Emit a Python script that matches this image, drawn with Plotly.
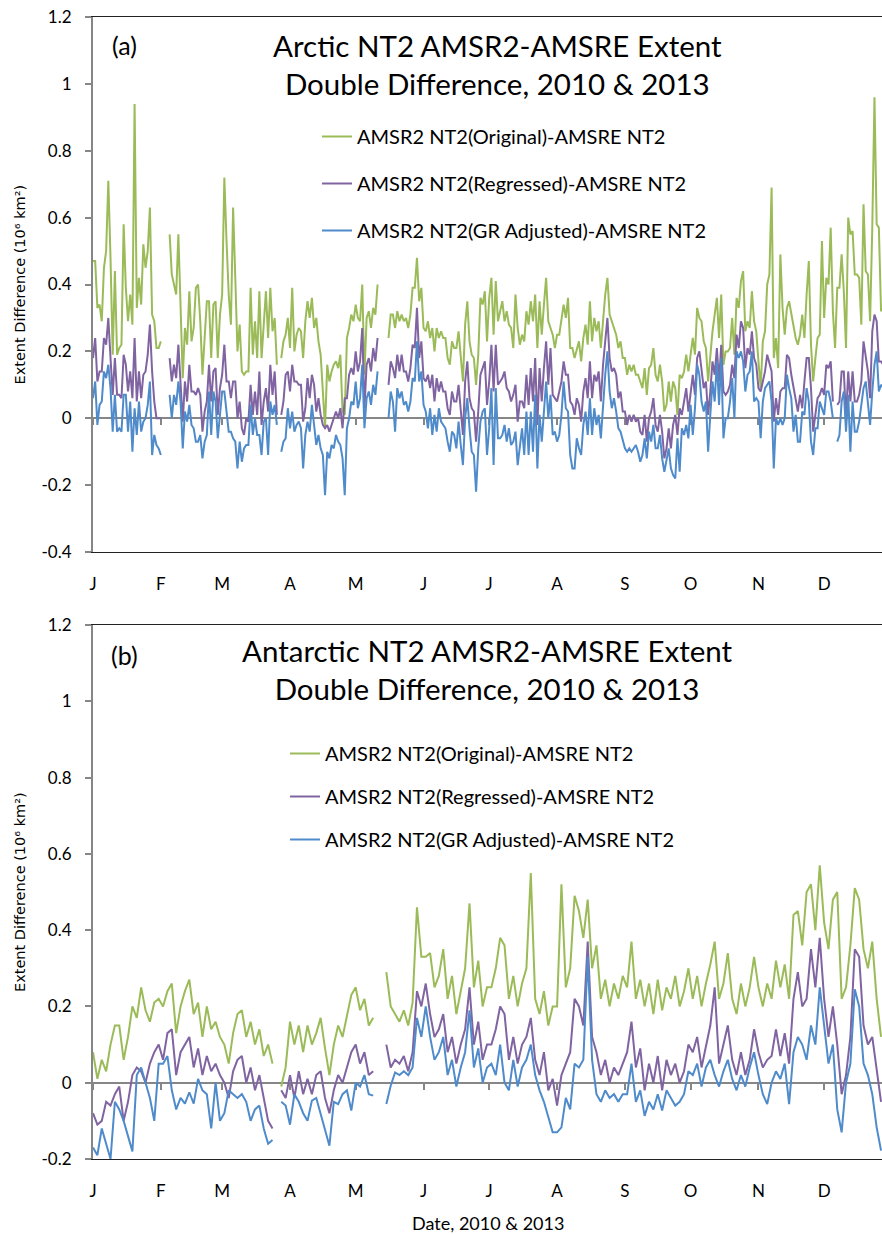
import numpy as np
import plotly.graph_objects as go

N = None
MONTH_START_DAYS = [0, 31, 59, 90, 120, 151, 181, 212, 243, 273, 304, 334]
MONTH_LABELS = ["J", "F", "M", "A", "M", "J", "J", "A", "S", "O", "N", "D"]
SERIES_NAMES = ["AMSR2 NT2(Original)-AMSRE NT2",
                "AMSR2 NT2(Regressed)-AMSRE NT2",
                "AMSR2 NT2(GR Adjusted)-AMSRE NT2"]
COLORS = ["#9BBB59", "#8064A2", "#4F8BCB"]

# ---------------- Arctic (daily, day 0 = Jan 1) ----------------
arctic_original = (
    [0.47, 0.47, 0.33, 0.34, 0.29, 0.45, 0.50, 0.71, 0.48, 0.19, 0.44, 0.19, 0.21, 0.22, 0.58, 0.39,
     0.29, 0.37, 0.28, 0.94, 0.33, 0.42, 0.34, 0.52, 0.45, 0.50, 0.63, 0.31, 0.29, 0.21, 0.21, 0.23]
    + [N] * 3 +
    [0.55, 0.43, 0.40, 0.37, 0.55, 0.33, 0.12, 0.27, 0.22, 0.38, 0.23, 0.27, 0.39, 0.40, 0.29, 0.13,
     0.26, 0.35, 0.35, 0.18, 0.34, 0.35, 0.18, 0.31, 0.37, 0.72, 0.53, 0.37, 0.28, 0.63, 0.42, 0.20,
     0.28, 0.14, 0.13, 0.14, 0.14, 0.39, 0.19, 0.29, 0.18, 0.38, 0.18, 0.27, 0.38, 0.24, 0.39, 0.26,
     0.30, 0.16]
    + [N] +
    [0.18, 0.23,
     0.25, 0.30, 0.21, 0.39, 0.20, 0.25, 0.27, 0.26, 0.18, 0.29, 0.35, 0.30, 0.36, 0.27, 0.30, 0.23,
     0.19, 0.08, -0.03, 0.16, 0.11, 0.14, 0.16, 0.17, 0.15, 0.19, 0.02, 0.01, 0.24, 0.27, 0.31, 0.29,
     0.34, 0.30, 0.29, 0.40, 0.13, 0.30, 0.32, 0.27, 0.33, 0.31, 0.40]
    + [N] * 4 +
    [0.24, 0.31, 0.31, 0.27, 0.32, 0.29, 0.31, 0.29, 0.30, 0.27, 0.31, 0.39, 0.39, 0.48, 0.35, 0.39,
     0.27, 0.26, 0.29, 0.24, 0.27, 0.20, 0.27, 0.24, 0.26, 0.24, 0.24, 0.18, 0.16, 0.23, 0.21, 0.21,
     0.26, 0.18, 0.11, 0.28, 0.35, 0.23, 0.19, 0.18, 0.10, 0.19,
     0.36, 0.34, 0.38, 0.23, 0.36, 0.42, 0.25, 0.41, 0.29, 0.32, 0.35, 0.29, 0.32, 0.28, 0.27, 0.21,
     0.37, 0.27, 0.22, 0.25, 0.23, 0.32, 0.28, 0.35, 0.29, 0.37, 0.21, 0.35, 0.25, 0.34, 0.42, 0.29,
     0.27, 0.25, 0.21, 0.25, 0.25, 0.30, 0.34, 0.30, 0.36, 0.21, 0.21, 0.18, 0.21, 0.23, 0.17, 0.24,
     0.28, 0.22, 0.35, 0.23, 0.30, 0.26, 0.29, 0.21, 0.29, 0.37, 0.42, 0.31, 0.29, 0.27, 0.25, 0.21,
     0.23, 0.18, 0.18, 0.13, 0.16, 0.14, 0.16, 0.13, 0.13, 0.11, 0.09, 0.15, 0.07, 0.15, 0.16, 0.21,
     0.13, 0.11, 0.16, 0.11, 0.02, 0.04, 0.11, 0.05, 0.11,
     0.09, 0.01, 0.13, 0.12, 0.14, 0.19, 0.14, 0.20, 0.24, 0.19, 0.33, 0.30, 0.29, 0.23, 0.21, 0.11,
     0.19, 0.26, 0.31, 0.36, 0.24, 0.37, 0.16, 0.20, 0.20, 0.21, 0.30, 0.19, 0.36, 0.33, 0.41, 0.44,
     0.26, 0.29, 0.27, 0.38, 0.29, 0.26, 0.17, 0.09, 0.23, 0.26, 0.40, 0.43, 0.69, 0.18, 0.24, 0.15,
     0.49, 0.33, 0.25, 0.33, 0.35, 0.31, 0.27, 0.24, 0.22, 0.25, 0.31, 0.24, 0.37, 0.47, 0.22, 0.11,
     0.18, 0.24, 0.25, 0.53, 0.30, 0.42, 0.40, 0.57, 0.32, 0.21, 0.39, 0.39, 0.49, 0.38, 0.21, 0.60,
     0.55, 0.56, 0.43, 0.43, 0.42, 0.28, 0.64, 0.44, 0.43, 0.29, 0.57, 0.96, 0.58, 0.57, 0.32, 0.33]
)

arctic_regressed = (
    [0.18, 0.24, 0.11, 0.14, 0.14, 0.24, 0.22, 0.30, 0.18, 0.07, 0.18, 0.07, 0.07, 0.06, 0.19, 0.16,
     0.08, 0.14, 0.06, 0.24, 0.05, 0.14, 0.06, 0.13, 0.14, 0.19, 0.28, 0.14, 0.05, 0.00, 0.00, 0.00]
    + [N] * 3 +
    [0.18, 0.11, 0.16, 0.12, 0.22, 0.11, -0.01, 0.11, 0.05, 0.16, 0.08, 0.08, 0.07, 0.09, 0.07, -0.04,
     0.02, 0.05, 0.16, 0.05, 0.14, 0.15, 0.01, 0.09, 0.13, 0.22, 0.11, 0.11, 0.06, 0.11, 0.11, 0.00,
     0.05, -0.03, -0.05, 0.00, -0.01, 0.10, 0.01, 0.08, 0.01, 0.14, -0.02, 0.05, 0.09, 0.02, 0.16, 0.07,
     0.14, 0.01]
    + [N] +
    [0.01, 0.05,
     0.13, 0.14, 0.08, 0.16, 0.11, 0.11, 0.10, 0.10, -0.01, 0.03, 0.12, 0.06, 0.13, 0.10, 0.02, 0.06,
     0.01, -0.02, -0.03, -0.02, -0.04, -0.02, 0.00, 0.02, 0.00, 0.03, -0.03, 0.06, 0.06, 0.13, 0.15, 0.13,
     0.20, 0.14, 0.17, 0.27, 0.03, 0.16, 0.18, 0.14, 0.21, 0.17, 0.24]
    + [N] * 4 +
    [0.10, 0.17, 0.15, 0.12, 0.19, 0.14, 0.19, 0.14, 0.14, 0.11, 0.15, 0.22, 0.21, 0.33, 0.18, 0.23,
     0.12, 0.11, 0.13, 0.09, 0.13, 0.05, 0.12, 0.08, 0.11, 0.08, 0.08, 0.03, 0.01, 0.08, 0.05, 0.05,
     0.10, 0.02, -0.05, 0.11, 0.17, 0.06, 0.03, 0.02, -0.07, 0.02,
     0.13, 0.15, 0.17, 0.04, 0.11, 0.22, 0.08, 0.22, 0.10, 0.11, 0.12, 0.14, 0.09, 0.08, 0.05, 0.07,
     0.10, -0.01, 0.05, 0.05, 0.03, 0.13, 0.04, 0.15, 0.05, 0.18, -0.02, 0.15, 0.05, 0.15, 0.23, 0.10,
     0.21, 0.07, 0.06, 0.05, 0.08, 0.11, 0.17, 0.13, 0.13, 0.05, 0.04, 0.01, 0.06, 0.04, -0.01, 0.08,
     0.12, 0.06, 0.17, 0.06, 0.13, 0.11, 0.14, 0.05, 0.16, 0.24, 0.30, 0.18, 0.14, 0.15, 0.13, 0.06,
     0.08, 0.02, 0.02, -0.02, 0.01, -0.01, 0.01, -0.01, 0.00, -0.04, -0.05, 0.01, -0.07, 0.00, 0.02, 0.06,
     -0.02, -0.04, 0.01, -0.04, -0.12, -0.09, -0.03, -0.09, -0.02,
     0.01, -0.05, 0.03, 0.01, 0.05, 0.09, 0.02, 0.07, 0.13, 0.07, 0.18, 0.20, 0.14, 0.09, 0.11, 0.01,
     0.08, 0.17, 0.13, 0.21, 0.11, 0.22, 0.08, 0.07, 0.08, 0.10, 0.16, 0.12, 0.25, 0.21, 0.29, 0.27,
     0.15, 0.21, 0.19, 0.26, 0.18, 0.16, 0.09, 0.08, 0.11, 0.14, 0.19, 0.16, 0.14, -0.01, 0.06, 0.01,
     0.08, 0.09, 0.09, 0.19, 0.18, 0.13, 0.09, 0.06, 0.02, 0.07, 0.03, 0.11, 0.18, 0.18, 0.09, -0.04,
     0.01, 0.06, 0.07, 0.09, 0.07, 0.16, 0.15, 0.17, 0.05, N, 0.04, 0.05, 0.14, 0.14, 0.00, 0.14,
     0.05, 0.14, 0.05, 0.05, 0.07, 0.11, 0.23, 0.18, 0.14, 0.06, 0.26, 0.31, 0.29, 0.17, 0.17, 0.16]
)

arctic_gr_adjusted = (
    [0.06, 0.11, -0.02, 0.04, 0.05, 0.14, 0.12, 0.16, 0.09, -0.04, 0.07, -0.04, -0.03, -0.04, 0.07, 0.07,
     -0.04, 0.05, -0.10, 0.03, -0.05, 0.05, -0.04, -0.01, 0.00, 0.04, 0.11, -0.11, -0.05, -0.08, -0.09, -0.11]
    + [N] * 3 +
    [0.07, 0.00, 0.07, 0.04, 0.11, 0.05, -0.09, 0.02, -0.01, 0.04, -0.02, -0.03, -0.07, -0.07, -0.05, -0.12,
     -0.07, -0.05, 0.08, -0.05, 0.08, 0.05, -0.06, 0.01, 0.08, 0.08, 0.01, -0.04, -0.04, -0.06, -0.07, -0.15,
     -0.07, -0.13, -0.09, -0.08, -0.08, 0.04, -0.05, 0.00, -0.05, -0.05, -0.11, -0.01, 0.00, -0.11, 0.05, 0.01,
     0.04, -0.02]
    + [N] +
    [-0.10, -0.07,
     -0.06, 0.03, -0.03, 0.02, -0.04, -0.02, -0.01, -0.03, -0.15, -0.05, -0.01, -0.04, 0.04, -0.02, -0.08, -0.05,
     -0.09, -0.11, -0.23, -0.10, -0.12, -0.08, -0.09, -0.05, -0.07, -0.08, -0.12, -0.23, -0.03, 0.00, 0.05, 0.04,
     0.11, 0.03, 0.06, 0.16, -0.03, 0.06, 0.08, 0.04, 0.10, 0.07, 0.14]
    + [N] * 4 +
    [0.00, 0.08, 0.05, -0.04, 0.09, 0.06, 0.08, 0.04, 0.05, 0.02, 0.05, 0.12, 0.11, 0.23, 0.11, 0.14,
     0.04, 0.02, -0.03, 0.03, -0.05, 0.01, -0.04, 0.03, -0.01, -0.02, -0.03, -0.07, -0.10, -0.04, -0.05, -0.09,
     -0.01, -0.08, -0.14, 0.00, 0.06, -0.03, -0.10, -0.11, -0.22, -0.09,
     -0.01, 0.02, 0.03, -0.11, -0.03, 0.09, -0.14, 0.09, -0.06, -0.06, -0.05, -0.02, -0.07, -0.03, -0.08, -0.07,
     -0.04, -0.14, -0.09, -0.03, -0.11, 0.02, -0.11, 0.02, -0.10, 0.07, -0.15, 0.01, -0.07, 0.03, 0.11, 0.00,
     0.07, -0.05, -0.04, -0.07, -0.05, 0.01, 0.11, 0.03, 0.02, -0.11, -0.15, -0.15, -0.06, -0.09, -0.11, -0.02,
     0.02, -0.05, 0.06, -0.05, 0.03, -0.02, 0.01, -0.06, 0.05, 0.13, 0.20, 0.08, 0.03, 0.06, 0.02, -0.03,
     -0.04, -0.07, -0.09, -0.10, -0.09, -0.10, -0.09, -0.08, -0.10, -0.13, -0.11, -0.06, -0.12, -0.04, -0.07, -0.02,
     -0.09, -0.09, -0.05, -0.12, -0.16, -0.12, -0.09, -0.15, -0.17,
     -0.18, -0.06, -0.16, -0.03, -0.05, -0.02, -0.06, 0.04, -0.05, 0.03, 0.16, 0.13, 0.05, 0.02, 0.05, -0.10,
     0.01, 0.11, 0.05, 0.17, 0.04, 0.18, -0.06, 0.00, 0.00, 0.05, 0.12, 0.00, 0.20, 0.18, 0.20, 0.17,
     0.08, 0.13, 0.14, 0.20, 0.05, 0.06, 0.05, -0.06, 0.05, 0.09, 0.10, 0.11, 0.05, -0.15, 0.00, -0.02,
     0.00, -0.02, 0.00, 0.13, 0.09, 0.06, -0.04, 0.01, -0.07, -0.07, 0.02, 0.01, 0.09, 0.05, -0.07, -0.11,
     -0.03, -0.03, 0.05, 0.03, 0.01, 0.08, 0.08, 0.05, 0.00, N, -0.07, -0.05, 0.05, 0.08, -0.04, 0.07,
     -0.10, 0.05, -0.04, -0.04, -0.01, 0.05, 0.09, 0.11, 0.05, -0.02, 0.08, 0.16, 0.20, 0.08, 0.10, 0.09]
)

# ---------------- Antarctic (every 2nd day, day 0 = Jan 1) ----------------
antarctic_original = (
    # Jan
    [0.08, 0.01, 0.06, 0.03, 0.10, 0.15, 0.15, 0.06, 0.12, 0.20, 0.17, 0.25, 0.19, 0.16, 0.21, 0.22]
    # Feb
    + [0.20, 0.24, 0.26, 0.13, 0.20, 0.24, 0.27, 0.18, 0.21, 0.12, 0.20, 0.14, 0.16, 0.12]
    # Mar
    + [0.10, 0.05, 0.13, 0.18, 0.19, 0.12, 0.16, 0.10, 0.14, 0.07, 0.10, 0.05, N, -0.01, 0.04]
    # Apr
    + [0.16, 0.10, 0.15, 0.08, 0.15, 0.10, 0.13, 0.17, 0.09, 0.02, 0.10, 0.15, 0.12, 0.18, 0.23]
    # May
    + [0.25, 0.19, 0.22, 0.15, 0.17, N, N, 0.29, 0.20, 0.18, 0.16, 0.19, 0.15, 0.21, 0.46, 0.33]
    # Jun
    + [0.33, 0.34, 0.25, 0.28, 0.35, 0.22, 0.28, 0.18, 0.24, 0.30, 0.47, 0.25, 0.32, 0.20, 0.25]
    # Jul
    + [0.25, 0.30, 0.38, 0.36, 0.22, 0.28, 0.20, 0.26, 0.30, 0.55, 0.22, 0.18, 0.24, 0.15, 0.20]
    # Aug
    + [0.20, 0.52, 0.25, 0.30, 0.49, 0.45, 0.38, 0.48, 0.30, 0.36, 0.22, 0.27, 0.20, 0.26, 0.22, 0.28]
    # Sep
    + [0.25, 0.37, 0.22, 0.27, 0.20, 0.26, 0.18, 0.27, 0.19, 0.25, 0.22, 0.28, 0.20, 0.24, 0.30]
    # Oct
    + [0.22, 0.28, 0.20, 0.26, 0.31, 0.37, 0.22, 0.26, 0.34, 0.22, 0.18, 0.26, 0.20, 0.25, 0.33]
    # Nov
    + [0.25, 0.20, 0.26, 0.22, 0.32, 0.25, 0.31, 0.22, 0.44, 0.45, 0.36, 0.50, 0.52, 0.40, 0.57]
    # Dec
    + [0.42, 0.35, 0.48, 0.50, 0.22, 0.25, 0.36, 0.51, 0.48, 0.35, 0.30, 0.37, 0.22, 0.12]
)

antarctic_regressed = (
    [-0.08, -0.11, -0.10, -0.05, -0.06, -0.03, -0.01, -0.10, -0.05, 0.02, 0.04, 0.03, 0.00, 0.05, 0.08, 0.10]
    + [0.06, 0.13, 0.14, 0.02, 0.08, 0.10, 0.12, 0.04, 0.09, 0.02, 0.07, 0.03, 0.05, 0.02]
    + [0.00, -0.04, 0.03, 0.06, 0.07, 0.00, 0.04, -0.02, 0.02, -0.04, -0.10, -0.12, N, -0.02, -0.04]
    + [0.02, -0.04, 0.03, -0.03, 0.01, -0.03, 0.02, 0.03, -0.04, -0.08, -0.02, 0.02, 0.00, 0.04, 0.08]
    + [0.10, 0.05, 0.08, 0.02, 0.03, N, N, 0.10, 0.04, 0.06, 0.05, 0.07, 0.03, 0.08, 0.24, 0.20]
    + [0.26, 0.18, 0.12, 0.14, 0.18, 0.08, 0.12, 0.05, 0.10, 0.14, 0.25, 0.10, 0.16, 0.06, 0.10]
    + [0.10, 0.14, 0.20, 0.18, 0.06, 0.12, 0.05, 0.10, 0.12, 0.17, 0.06, 0.02, 0.08, -0.02, 0.01]
    + [-0.06, 0.02, 0.05, 0.08, 0.22, 0.20, 0.15, 0.37, 0.12, 0.08, 0.02, 0.06, 0.00, 0.04, 0.02, 0.05]
    + [0.08, 0.16, 0.04, 0.09, -0.02, 0.05, 0.00, 0.07, -0.02, 0.06, 0.02, 0.05, 0.00, 0.03, 0.10]
    + [0.08, 0.12, 0.04, 0.10, 0.15, 0.25, 0.05, 0.10, 0.15, 0.06, 0.02, 0.08, 0.02, 0.06, 0.14]
    + [0.08, 0.04, 0.06, 0.07, 0.14, 0.07, 0.13, 0.05, 0.22, 0.29, 0.20, 0.22, 0.35, 0.25, 0.38]
    + [0.22, 0.12, 0.20, 0.10, -0.03, 0.02, 0.12, 0.35, 0.33, 0.15, 0.10, 0.12, 0.03, -0.05]
)

antarctic_gr_adjusted = (
    [-0.17, -0.19, -0.12, -0.16, -0.20, -0.05, -0.07, -0.10, -0.14, -0.18, 0.02, 0.04, 0.00, -0.04, -0.10, 0.05]
    + [0.05, 0.07, -0.02, -0.07, -0.04, -0.055, -0.025, -0.055, 0.01, -0.02, -0.03, -0.12, 0.00, -0.10]
    + [-0.08, -0.02, -0.03, -0.04, -0.03, -0.05, -0.10, -0.07, -0.06, -0.12, -0.16, -0.15, N, -0.05, -0.06]
    + [-0.11, -0.03, -0.05, -0.08, -0.10, -0.047, -0.04, -0.08, -0.12, -0.165, -0.05, -0.056, -0.03, -0.02, -0.073]
    + [0.00, -0.01, 0.02, -0.03, -0.034, N, N, -0.056, -0.008, 0.027, 0.02, 0.03, 0.02, 0.04, 0.17, 0.12]
    + [0.20, 0.12, 0.06, 0.08, 0.12, 0.02, 0.06, -0.01, 0.04, 0.08, 0.19, 0.04, 0.09, 0.00, 0.04]
    + [0.05, 0.02, 0.10, 0.00, -0.02, 0.06, -0.01, 0.04, 0.06, 0.10, 0.02, -0.02, -0.05, -0.09, -0.13]
    + [-0.13, -0.117, -0.04, -0.07, 0.05, 0.04, 0.06, 0.33, 0.06, -0.03, -0.05, -0.02, -0.04, -0.03, -0.05, -0.03]
    + [-0.03, 0.05, -0.05, -0.02, -0.087, -0.05, -0.07, -0.03, -0.073, -0.02, -0.04, -0.06, -0.05, -0.03, 0.03]
    + [0.02, 0.05, -0.01, 0.04, 0.06, 0.02, -0.01, 0.03, 0.06, 0.01, -0.02, 0.02, -0.01, 0.04, 0.08]
    + [0.02, -0.03, -0.056, 0.00, 0.03, 0.01, 0.05, -0.056, 0.08, 0.12, 0.10, 0.06, 0.15, 0.10, 0.25]
    + [0.15, 0.05, 0.10, -0.07, -0.13, 0.00, 0.05, 0.245, 0.20, 0.05, 0.02, -0.03, -0.117, -0.178]
)

arctic_days = list(range(len(arctic_original)))
antarctic_days = list(range(0, 2 * len(antarctic_original), 2))
assert len(arctic_regressed) == len(arctic_original) == len(arctic_gr_adjusted)
assert len(antarctic_regressed) == len(antarctic_original) == len(antarctic_gr_adjusted)

# ---------------- layout geometry ----------------
W, H = 882, 1234
ML, MR, MT, MB = 93, 0, 17, 75
PH = H - MT - MB
PW = W - ML - MR
TOP_DOM = [(1159 - 552) / PH, 1.0]
BOT_DOM = [0.0, (1159 - 625) / PH]
TOP_YR = [-0.4, 1.2]
BOT_YR = [-0.2, 1.2]
X_RANGE = [0, PW / 2.189]


def py(ypix):
    return (1159 - ypix) / PH


def px(xpix):
    return (xpix - ML) / PW


LABEL_FONT = "Lato, Carlito, Calibri, sans-serif"
AXIS_GRAY = "#868686"

fig = go.Figure()

panels = [
    ("x", "y", "legend", arctic_days, [arctic_original, arctic_regressed, arctic_gr_adjusted]),
    ("x2", "y2", "legend2", antarctic_days, [antarctic_original, antarctic_regressed, antarctic_gr_adjusted]),
]
for xa, ya, lg, days, series in panels:
    for name, color, vals in zip(SERIES_NAMES, COLORS, series):
        fig.add_trace(go.Scatter(
            x=days, y=vals, mode="lines", name=name,
            line=dict(color=color, width=2), connectgaps=False,
            xaxis=xa, yaxis=ya, legend=lg, legendgroup=lg + name,
        ))

# dummy traces so the zero-crossing tick axes are drawn
for xa, ya in [("x3", "y"), ("x4", "y2")]:
    fig.add_trace(go.Scatter(x=[None], y=[None], xaxis=xa, yaxis=ya, showlegend=False, hoverinfo="skip"))


def ytick(v):
    s = ("%.1f" % v).rstrip("0").rstrip(".")
    return "0" if s in ("-0", "") else s


def yaxis_cfg(rng, dom, anchor):
    vals = [round(v, 1) for v in np.arange(rng[0], rng[1] + 0.001, 0.2)]
    return dict(domain=dom, range=rng, anchor=anchor, tickvals=vals, ticktext=[ytick(v) for v in vals],
                showline=True, linecolor=AXIS_GRAY, linewidth=2, ticks="outside", ticklen=6,
                tickcolor=AXIS_GRAY, tickwidth=1.5, showgrid=False, zeroline=True,
                zerolinecolor=AXIS_GRAY, zerolinewidth=1.5, ticklabelstandoff=10,
                tickfont=dict(family=LABEL_FONT, size=17, color="#000"))


def xaxis_cfg(anchor):
    return dict(range=X_RANGE, anchor=anchor, tickvals=MONTH_START_DAYS, ticktext=MONTH_LABELS,
                ticks="", showline=True, mirror=True, linecolor="#222", linewidth=1.2,
                showgrid=False, zeroline=False, ticklabelstandoff=16,
                tickfont=dict(family=LABEL_FONT, size=17, color="#000"))


def zero_axis_cfg(overlay, yr, dom):
    pos = dom[0] + (0 - yr[0]) / (yr[1] - yr[0]) * (dom[1] - dom[0])
    return dict(overlaying=overlay, anchor="free", position=pos, range=X_RANGE,
                tickvals=MONTH_START_DAYS, ticks="outside", ticklen=6, tickcolor=AXIS_GRAY,
                tickwidth=1.5, showticklabels=False, showline=False, showgrid=False,
                zeroline=False, layer="below traces")


fig.update_layout(
    width=W, height=H,
    margin=dict(l=ML, r=MR, t=MT, b=MB, pad=0),
    paper_bgcolor="white", plot_bgcolor="white",
    showlegend=True,
    xaxis=xaxis_cfg("y"),
    xaxis2=xaxis_cfg("y2"),
    xaxis3=zero_axis_cfg("x", TOP_YR, TOP_DOM),
    xaxis4=zero_axis_cfg("x2", BOT_YR, BOT_DOM),
    yaxis=yaxis_cfg(TOP_YR, TOP_DOM, "x"),
    yaxis2=yaxis_cfg(BOT_YR, BOT_DOM, "x2"),
    legend=dict(x=px(317), y=py(117), xanchor="left", yanchor="top", bgcolor="rgba(0,0,0,0)",
                font=dict(family=LABEL_FONT, size=20, color="#000"), tracegroupgap=18,
                itemclick=False, itemdoubleclick=False),
    legend2=dict(x=px(285), y=py(734), xanchor="left", yanchor="top", bgcolor="rgba(0,0,0,0)",
                 font=dict(family=LABEL_FONT, size=20, color="#000"), tracegroupgap=14,
                 itemclick=False, itemdoubleclick=False),
)

ann = []
ann.append(dict(text="Arctic NT2 AMSR2-AMSRE Extent<br>Double Difference, 2010 & 2013",
                x=px(497), y=py(64), xref="paper", yref="paper", xanchor="center", yanchor="middle",
                showarrow=False, font=dict(family=LABEL_FONT, size=29.5, color="#000")))
ann.append(dict(text="Antarctic NT2 AMSR2-AMSRE Extent<br>Double Difference, 2010 & 2013",
                x=px(487), y=py(669), xref="paper", yref="paper", xanchor="center", yanchor="middle",
                showarrow=False, font=dict(family=LABEL_FONT, size=29.5, color="#000")))
ann.append(dict(text="(a)", x=px(124), y=py(45), xref="paper", yref="paper", xanchor="center",
                yanchor="middle", showarrow=False, font=dict(family=LABEL_FONT, size=25, color="#000")))
ann.append(dict(text="(b)", x=px(124), y=py(655), xref="paper", yref="paper", xanchor="center",
                yanchor="middle", showarrow=False, font=dict(family=LABEL_FONT, size=25, color="#000")))
for yc in [(17 + 552) / 2, (625 + 1159) / 2]:
    ann.append(dict(text="Extent Difference (10⁶ km²)", x=px(20), y=py(yc), xref="paper", yref="paper",
                    xanchor="center", yanchor="middle", textangle=-90, showarrow=False,
                    font=dict(family="DejaVu Sans, Verdana, sans-serif", size=14.5, color="#000")))
ann.append(dict(text="Date, 2010 & 2013", x=px(488), y=py(1223), xref="paper", yref="paper",
                xanchor="center", yanchor="middle", showarrow=False,
                font=dict(family=LABEL_FONT, size=18, color="#000")))
fig.update_layout(annotations=ann)

fig.write_html("out.html")
